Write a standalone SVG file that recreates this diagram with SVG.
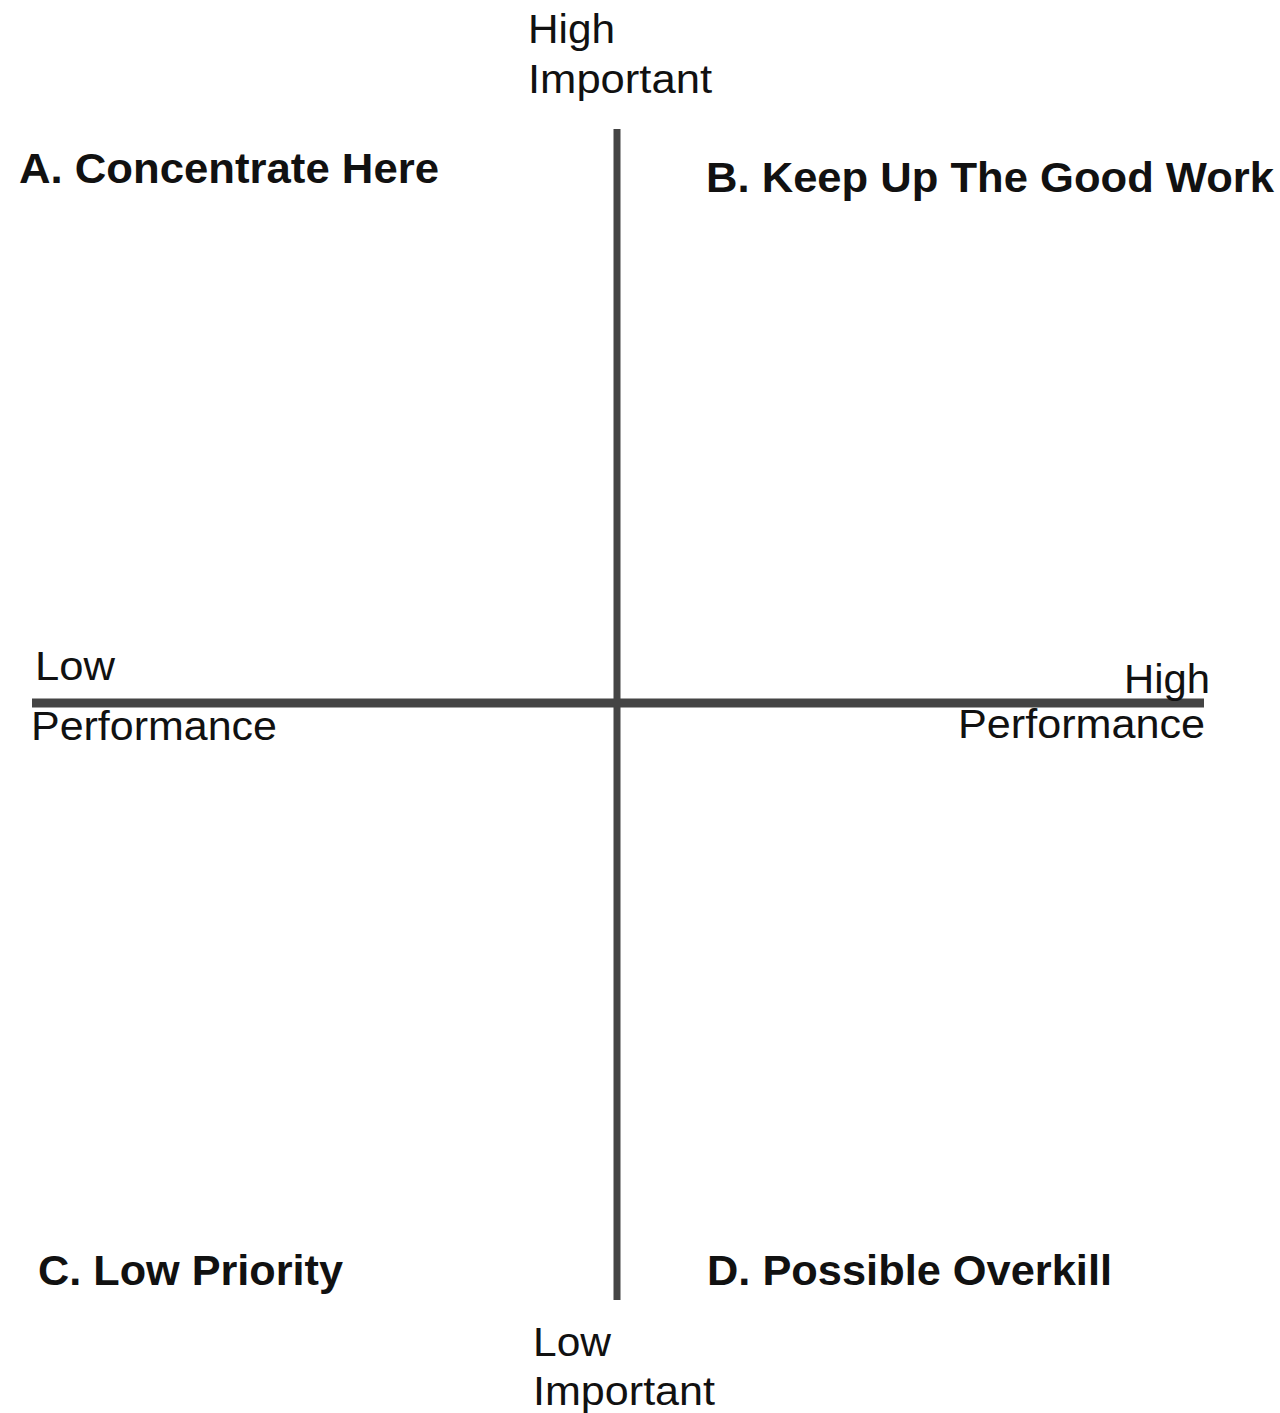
<svg xmlns="http://www.w3.org/2000/svg" width="1280" height="1413" viewBox="0 0 1280 1413">
<style>
.t{font-family:"Liberation Sans",Arial,sans-serif;font-size:40px;fill:#111}
.b{font-family:"Liberation Sans",Arial,sans-serif;font-size:42px;font-weight:bold;fill:#111}
.ax{stroke:#444;fill:none}
</style>
<rect width="1280" height="1413" fill="#fff"/>
<g id="connectors">
<line class="ax" x1="617" y1="129" x2="617" y2="1300" stroke-width="7"/>
<line class="ax" x1="32" y1="703" x2="1204" y2="703" stroke-width="9"/>
</g>
<g id="axis-top">
<text class="t" x="528" y="43" textLength="87" lengthAdjust="spacingAndGlyphs">High</text>
<text class="t" x="528" y="93" textLength="184" lengthAdjust="spacingAndGlyphs">Important</text>
</g>
<g id="axis-bottom">
<text class="t" x="533" y="1356" textLength="78" lengthAdjust="spacingAndGlyphs">Low</text>
<text class="t" x="533" y="1405" textLength="182" lengthAdjust="spacingAndGlyphs">Important</text>
</g>
<g id="axis-left">
<text class="t" x="35" y="680" textLength="80" lengthAdjust="spacingAndGlyphs">Low</text>
<text class="t" x="31" y="740" textLength="246" lengthAdjust="spacingAndGlyphs">Performance</text>
</g>
<g id="axis-right">
<text class="t" x="1124" y="693" textLength="86" lengthAdjust="spacingAndGlyphs">High</text>
<text class="t" x="958" y="738" textLength="247" lengthAdjust="spacingAndGlyphs">Performance</text>
</g>
<g id="quadrant-a">
<text class="b" x="19" y="183" textLength="420" lengthAdjust="spacingAndGlyphs">A. Concentrate Here</text>
</g>
<g id="quadrant-b">
<text class="b" x="706" y="192" textLength="568" lengthAdjust="spacingAndGlyphs">B. Keep Up The Good Work</text>
</g>
<g id="quadrant-c">
<text class="b" x="38" y="1285" textLength="305" lengthAdjust="spacingAndGlyphs">C. Low Priority</text>
</g>
<g id="quadrant-d">
<text class="b" x="707" y="1285" textLength="405" lengthAdjust="spacingAndGlyphs">D. Possible Overkill</text>
</g>
</svg>
